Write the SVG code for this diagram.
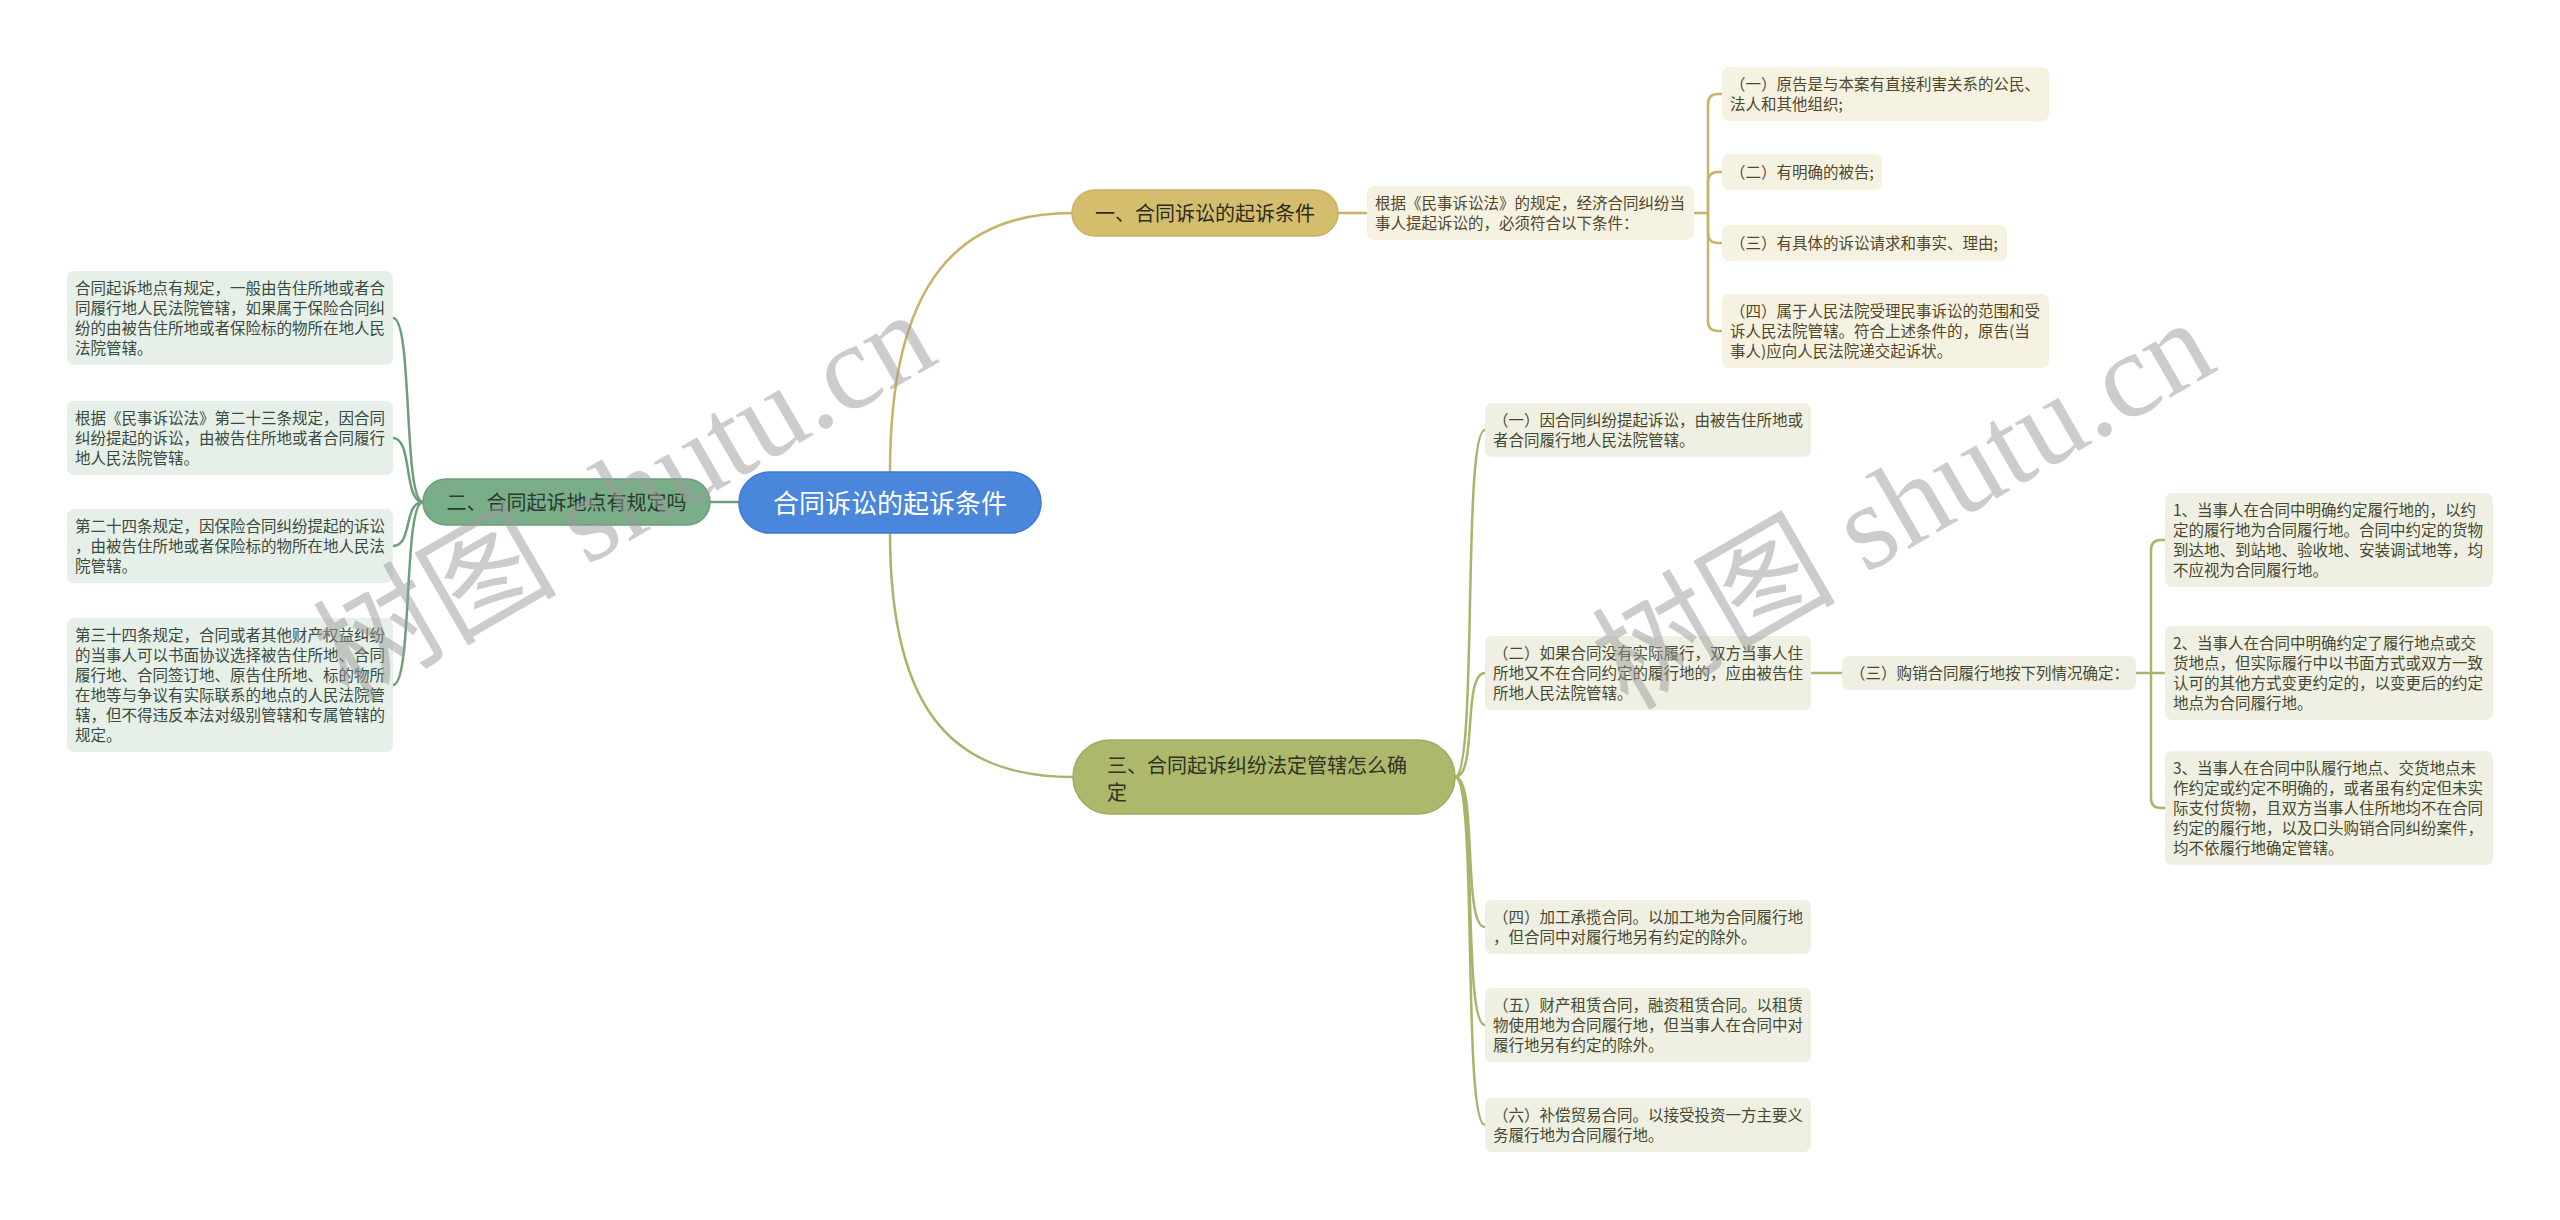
<svg xmlns="http://www.w3.org/2000/svg" width="2560" height="1220" viewBox="0 0 2560 1220">
<style>
text{font-family:"Noto Sans CJK SC","Noto Sans",sans-serif}
.leaf{font-size:15.5px}
.lg{fill:#e6f0e8}
.lo{fill:#eff0e3}
.ly{fill:#f6f2e1}
.tg{fill:#3b4a40}
.to{fill:#46492f}
.ty{fill:#51472d}
.cg{fill:none;stroke:#6d9f7c;stroke-width:2.5}
.co{fill:none;stroke:#a9b46a;stroke-width:2.5}
.cy{fill:none;stroke:#c8b269;stroke-width:2.5}
.br{font-size:20px}
.wm{font-family:"Liberation Serif","Noto Sans CJK SC",serif;font-size:122px;fill:#9a9a9a;fill-opacity:0.5}
</style>
<rect width="2560" height="1220" fill="#ffffff"/>
<g id="connectors">
<path class="cg" d="M739 502 H710"/>
<path class="cg" d="M423 502 C403 502 413 318 393 318"/>
<path class="cg" d="M423 502 C403 502 413 438 393 438"/>
<path class="cg" d="M423 502 C403 502 413 546 393 546"/>
<path class="cg" d="M423 502 C403 502 413 685 393 685"/>
<path class="cy" d="M890 472 C890 280 960 213 1072 213"/>
<path class="cy" d="M1338 213 H1367"/>
<path class="cy" d="M1694 213 H1708 V104 Q1708 94 1718 94 H1722"/>
<path class="cy" d="M1708 213 V182 Q1708 172 1718 172 H1722"/>
<path class="cy" d="M1708 213 V233 Q1708 243 1718 243 H1722"/>
<path class="cy" d="M1708 213 V321 Q1708 331 1718 331 H1722"/>
<path class="co" d="M890 533 C890 720 960 777 1073 777"/>
<path class="co" d="M1455 777 C1478 777 1462 430 1485 430"/>
<path class="co" d="M1455 777 C1478 777 1462 673 1485 673"/>
<path class="co" d="M1455 777 C1478 777 1462 927 1485 927"/>
<path class="co" d="M1455 777 C1478 777 1462 1025 1485 1025"/>
<path class="co" d="M1455 777 C1478 777 1462 1125 1485 1125"/>
<path class="co" d="M1811 673 H1842"/>
<path class="co" d="M2136 673 H2151 V550 Q2151 540 2161 540 H2165"/>
<path class="co" d="M2151 673 H2165"/>
<path class="co" d="M2151 673 V798 Q2151 808 2161 808 H2165"/>
</g>
<g id="root">
<rect x="739" y="472" width="302" height="61" rx="30.5" fill="#4a86dc" stroke="#3f79cf" stroke-width="1.5"/>
<text x="890" y="513" font-size="26" fill="#ffffff" text-anchor="middle">合同诉讼的起诉条件</text>
</g>
<g id="b2">
<rect x="423" y="479" width="287" height="46" rx="23" fill="#79ae89" stroke="#6a9f7a" stroke-width="1.5"/>
<text class="br" x="566.5" y="509.5" fill="#2b3a2f" text-anchor="middle">二、合同起诉地点有规定吗</text>
</g>
<g id="b1">
<rect x="1072" y="190" width="266" height="46" rx="23" fill="#d4be6e" stroke="#c9b160" stroke-width="1.5"/>
<text class="br" x="1205" y="220.5" fill="#2e2a1c" text-anchor="middle">一、合同诉讼的起诉条件</text>
</g>
<g id="b3">
<rect x="1073" y="740" width="382" height="74" rx="37" fill="#adb86c" stroke="#a1ac60" stroke-width="1.5"/>
<text class="br" fill="#2f3320"><tspan x="1107" y="772.5">三、合同起诉纠纷法定管辖怎么确</tspan><tspan x="1107" y="799.5">定</tspan></text>
</g>
<g id="l2a">
<rect class="lg" x="67" y="271" width="326" height="94" rx="7"/>
<text class="leaf tg"><tspan x="75" y="293.5">合同起诉地点有规定，一般由告住所地或者合</tspan><tspan x="75" y="313.5">同履行地人民法院管辖，如果属于保险合同纠</tspan><tspan x="75" y="333.5">纷的由被告住所地或者保险标的物所在地人民</tspan><tspan x="75" y="353.5">法院管辖。</tspan></text>
</g>
<g id="l2b">
<rect class="lg" x="67" y="401" width="326" height="74" rx="7"/>
<text class="leaf tg"><tspan x="75" y="423.5">根据《民事诉讼法》第二十三条规定，因合同</tspan><tspan x="75" y="443.5">纠纷提起的诉讼，由被告住所地或者合同履行</tspan><tspan x="75" y="463.5">地人民法院管辖。</tspan></text>
</g>
<g id="l2c">
<rect class="lg" x="67" y="509" width="326" height="74" rx="7"/>
<text class="leaf tg"><tspan x="75" y="531.5">第二十四条规定，因保险合同纠纷提起的诉讼</tspan><tspan x="75" y="551.5">，由被告住所地或者保险标的物所在地人民法</tspan><tspan x="75" y="571.5">院管辖。</tspan></text>
</g>
<g id="l2d">
<rect class="lg" x="67" y="618" width="326" height="134" rx="7"/>
<text class="leaf tg"><tspan x="75" y="640.5">第三十四条规定，合同或者其他财产权益纠纷</tspan><tspan x="75" y="660.5">的当事人可以书面协议选择被告住所地、合同</tspan><tspan x="75" y="680.5">履行地、合同签订地、原告住所地、标的物所</tspan><tspan x="75" y="700.5">在地等与争议有实际联系的地点的人民法院管</tspan><tspan x="75" y="720.5">辖，但不得违反本法对级别管辖和专属管辖的</tspan><tspan x="75" y="740.5">规定。</tspan></text>
</g>
<g id="l1">
<rect class="ly" x="1367" y="186" width="327" height="54" rx="7"/>
<text class="leaf ty"><tspan x="1375" y="208.5">根据《民事诉讼法》的规定，经济合同纠纷当</tspan><tspan x="1375" y="228.5">事人提起诉讼的，必须符合以下条件：</tspan></text>
</g>
<g id="l1a">
<rect class="ly" x="1722" y="67" width="327" height="54" rx="7"/>
<text class="leaf ty"><tspan x="1730" y="89.5">（一）原告是与本案有直接利害关系的公民、</tspan><tspan x="1730" y="109.5">法人和其他组织;</tspan></text>
</g>
<g id="l1b">
<rect class="ly" x="1722" y="154" width="160" height="36" rx="7"/>
<text class="leaf ty" x="1730" y="177.5">（二）有明确的被告;</text>
</g>
<g id="l1c">
<rect class="ly" x="1722" y="225" width="285" height="36" rx="7"/>
<text class="leaf ty" x="1730" y="248.5">（三）有具体的诉讼请求和事实、理由;</text>
</g>
<g id="l1d">
<rect class="ly" x="1722" y="294" width="327" height="74" rx="7"/>
<text class="leaf ty"><tspan x="1730" y="316.5">（四）属于人民法院受理民事诉讼的范围和受</tspan><tspan x="1730" y="336.5">诉人民法院管辖。符合上述条件的，原告(当</tspan><tspan x="1730" y="356.5">事人)应向人民法院递交起诉状。</tspan></text>
</g>
<g id="l3a">
<rect class="lo" x="1485" y="403" width="326" height="54" rx="7"/>
<text class="leaf to"><tspan x="1493" y="425.5">（一）因合同纠纷提起诉讼，由被告住所地或</tspan><tspan x="1493" y="445.5">者合同履行地人民法院管辖。</tspan></text>
</g>
<g id="l3b">
<rect class="lo" x="1485" y="636" width="326" height="74" rx="7"/>
<text class="leaf to"><tspan x="1493" y="658.5">（二）如果合同没有实际履行，双方当事人住</tspan><tspan x="1493" y="678.5">所地又不在合同约定的履行地的，应由被告住</tspan><tspan x="1493" y="698.5">所地人民法院管辖。</tspan></text>
</g>
<g id="l3c">
<rect class="lo" x="1842" y="656" width="294" height="34" rx="7"/>
<text class="leaf to" x="1850" y="678.5">（三）购销合同履行地按下列情况确定：</text>
</g>
<g id="l3c1">
<rect class="lo" x="2165" y="493" width="328" height="94" rx="7"/>
<text class="leaf to"><tspan x="2173" y="515.5">1、当事人在合同中明确约定履行地的，以约</tspan><tspan x="2173" y="535.5">定的履行地为合同履行地。合同中约定的货物</tspan><tspan x="2173" y="555.5">到达地、到站地、验收地、安装调试地等，均</tspan><tspan x="2173" y="575.5">不应视为合同履行地。</tspan></text>
</g>
<g id="l3c2">
<rect class="lo" x="2165" y="626" width="328" height="94" rx="7"/>
<text class="leaf to"><tspan x="2173" y="648.5">2、当事人在合同中明确约定了履行地点或交</tspan><tspan x="2173" y="668.5">货地点，但实际履行中以书面方式或双方一致</tspan><tspan x="2173" y="688.5">认可的其他方式变更约定的，以变更后的约定</tspan><tspan x="2173" y="708.5">地点为合同履行地。</tspan></text>
</g>
<g id="l3c3">
<rect class="lo" x="2165" y="751" width="328" height="114" rx="7"/>
<text class="leaf to"><tspan x="2173" y="773.5">3、当事人在合同中队履行地点、交货地点未</tspan><tspan x="2173" y="793.5">作约定或约定不明确的，或者虽有约定但未实</tspan><tspan x="2173" y="813.5">际支付货物，且双方当事人住所地均不在合同</tspan><tspan x="2173" y="833.5">约定的履行地，以及口头购销合同纠纷案件，</tspan><tspan x="2173" y="853.5">均不依履行地确定管辖。</tspan></text>
</g>
<g id="l3d">
<rect class="lo" x="1485" y="900" width="326" height="54" rx="7"/>
<text class="leaf to"><tspan x="1493" y="922.5">（四）加工承揽合同。以加工地为合同履行地</tspan><tspan x="1493" y="942.5">，但合同中对履行地另有约定的除外。</tspan></text>
</g>
<g id="l3e">
<rect class="lo" x="1485" y="988" width="326" height="74" rx="7"/>
<text class="leaf to"><tspan x="1493" y="1010.5">（五）财产租赁合同，融资租赁合同。以租赁</tspan><tspan x="1493" y="1030.5">物使用地为合同履行地，但当事人在合同中对</tspan><tspan x="1493" y="1050.5">履行地另有约定的除外。</tspan></text>
</g>
<g id="l3f">
<rect class="lo" x="1485" y="1098" width="326" height="54" rx="7"/>
<text class="leaf to"><tspan x="1493" y="1120.5">（六）补偿贸易合同。以接受投资一方主要义</tspan><tspan x="1493" y="1140.5">务履行地为合同履行地。</tspan></text>
</g>
<g id="watermark">
<text class="wm" text-anchor="middle" transform="translate(645 532) rotate(-30)">树图 shutu.cn</text>
<text class="wm" text-anchor="middle" transform="translate(1924 540) rotate(-30)">树图 shutu.cn</text>
</g>
</svg>
